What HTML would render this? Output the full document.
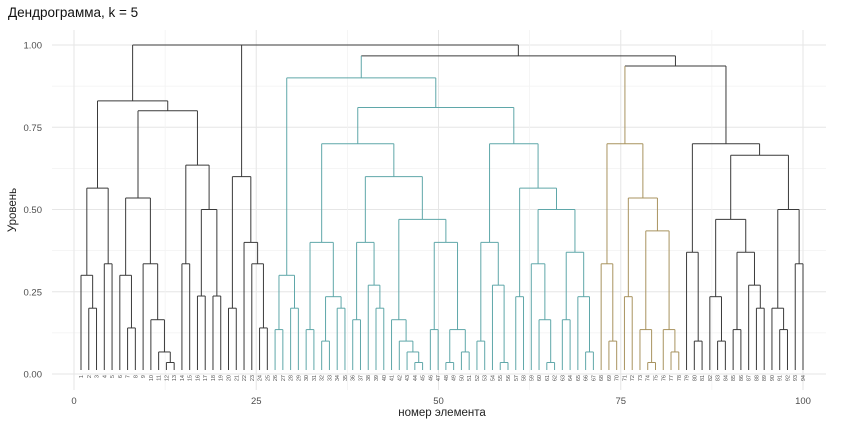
<!DOCTYPE html>
<html><head><meta charset="utf-8">
<style>
body{margin:0;background:#fff;}
svg{display:block;font-family:"Liberation Sans","DejaVu Sans",sans-serif;}
</style></head>
<body>
<svg id="chart" width="848" height="428" viewBox="0 0 848 428" xmlns="http://www.w3.org/2000/svg">
  <rect x="0" y="0" width="848" height="428" fill="#fff"/>
  <g id="grid"></g>
  <g id="axes"></g>
  <g id="links"></g>
  <g id="leaflabels"></g>
  <text x="8" y="17" font-size="13.5" fill="#111">Дендрограмма, k = 5</text>
  <text x="16" y="210" font-size="11.5" fill="#222" text-anchor="middle" transform="rotate(-90 16 210)">Уровень</text>
  <text x="442" y="416" font-size="11.5" fill="#222" text-anchor="middle">номер элемента</text>
</svg>
<script>
const xTicks = [0, 25, 50, 75, 100];
const yTicks = [0, 0.25, 0.5, 0.75, 1.0];
const yTickLabels = ["0.00", "0.25", "0.50", "0.75", "1.00"];
const L = 0;
const treeA = [0.83, [0.565,[0.30,L,[0.2,L,L]],[0.335,L,L]], [0.80,[0.535,[0.30,L,[0.14,L,L]],[0.335,L,[0.165,L,[0.067,L,[0.035,L,L]]]]],[0.635,[0.335,L,L],[0.50,[0.237,L,L],[0.237,L,L]]]]];
const treeB = [0.60,[0.2,L,L],[0.40,L,[0.335,L,[0.14,L,L]]]];
const treeCyan = [0.90,
  [0.30,[0.135,L,L],[0.20,L,L]],
  [0.81,
    [0.70,
      [0.40,[0.135,L,L],[0.235,[0.10,L,L],[0.20,L,L]]],
      [0.60,
        [0.40,[0.165,L,L],[0.27,L,[0.20,L,L]]],
        [0.47,[0.165,L,[0.10,L,[0.067,L,[0.035,L,L]]]],[0.40,[0.135,L,L],[0.135,[0.035,L,L],[0.067,L,L]]]]]],
    [0.70,
      [0.40,[0.10,L,L],[0.27,L,[0.035,L,L]]],
      [0.565,[0.235,L,L],[0.50,[0.335,L,[0.165,L,[0.035,L,L]]],[0.37,[0.165,L,L],[0.235,L,[0.067,L,L]]]]]]]];
const treeBrown = [0.70,[0.335,L,[0.10,L,L]],[0.535,[0.235,L,L],[0.435,[0.135,L,[0.035,L,L]],[0.135,L,[0.067,L,L]]]]];
const treeBlackR = [0.70,[0.37,L,[0.10,L,L]],[0.665,[0.47,[0.235,L,[0.10,L,L]],[0.37,[0.135,L,L],[0.27,L,[0.20,L,L]]]],[0.50,[0.20,L,[0.135,L,L]],[0.335,L,L]]]];
const clusterColors = ["#3a3a3a", "#3a3a3a", "#5fa7a9", "#a8935f", "#3a3a3a"];
const topHeights = [1.0, 1.0, 0.967, 0.936];

const NS = "http://www.w3.org/2000/svg";
const X = v => 74 + v * 7.29;
const Y = h => 374 - h * 329;
const grid = document.getElementById('grid');
const axes = document.getElementById('axes');
const links = document.getElementById('links');
const leafG = document.getElementById('leaflabels');

function mk(tag, attrs, parent){ const e=document.createElementNS(NS,tag); for(const k in attrs) e.setAttribute(k,attrs[k]); parent.appendChild(e); return e; }

for (let i=0;i<yTicks.length;i++){
  const gl = mk('line',{x1:52,x2:826,y1:Y(yTicks[i]),y2:Y(yTicks[i]),stroke:'#e6e6e6','stroke-width':1},grid);
  
  
  if(i<yTicks.length-1){
    const gm = mk('line',{x1:52,x2:826,y1:Y((yTicks[i]+yTicks[i+1])/2),y2:Y((yTicks[i]+yTicks[i+1])/2),stroke:'#f2f2f2','stroke-width':0.8},grid);
    
    
  }
  const t = mk('text',{x:42,y:Y(yTicks[i])+3.5,'font-size':9.5,fill:'#4d4d4d','text-anchor':'end'},axes);
  t.textContent = yTickLabels[i];
  
  
}
for (let i=0;i<xTicks.length;i++){
  const gl = mk('line',{x1:X(xTicks[i]),x2:X(xTicks[i]),y1:30,y2:390,stroke:'#e6e6e6','stroke-width':1},grid);
  
  
  if(i<xTicks.length-1){
    const gm = mk('line',{x1:X((xTicks[i]+xTicks[i+1])/2),x2:X((xTicks[i]+xTicks[i+1])/2),y1:30,y2:390,stroke:'#f2f2f2','stroke-width':0.8},grid);
    
    
  }
  const t = mk('text',{x:X(xTicks[i]),y:404,'font-size':9.5,fill:'#4d4d4d','text-anchor':'middle'},axes);
  t.textContent = String(xTicks[i]);
  
  
}

const root = [topHeights[0],
  [topHeights[1], {col:clusterColors[0], t:treeA}, {col:clusterColors[1], t:treeB}],
  [topHeights[2], {col:clusterColors[2], t:treeCyan}, [topHeights[3], {col:clusterColors[3], t:treeBrown}, {col:clusterColors[4], t:treeBlackR}]]];

function countLeaves(n){ if(n && n.t) return countLeaves(n.t); if(!Array.isArray(n)) return 1; return countLeaves(n[1])+countLeaves(n[2]); }
const nLeaves = countLeaves(root);
const leafX = i => 81 + i * (803 - 81) / (nLeaves - 1);
let leafIdx = 0;

function layout(n, col){
  if(n && n.t) return layout(n.t, n.col);
  if(!Array.isArray(n)){
    const x = leafX(leafIdx);
    const lab = mk('text',{x:0,y:0,'font-size':5.5,fill:'#555','text-anchor':'end',transform:`translate(${x+2},${Y(0)+1}) rotate(-90)`},leafG);
    lab.textContent = String(leafIdx+1);
    
    
    leafIdx++;
    return {x, h:0, col};
  }
  const a = layout(n[1], col), b = layout(n[2], col);
  const h = n[0];
  const c = col;
  const hl = mk('line',{x1:a.x,x2:b.x,y1:Y(h),y2:Y(h),stroke:c,'stroke-width':1},links);
  
  
  for(const ch of [a,b]){
    const vl = mk('line',{x1:ch.x,x2:ch.x,y1:Y(h),y2:ch.h===0?Y(0)-4:Y(ch.h),stroke:ch.col,'stroke-width':1},links);
    
    
  }
  return {x:(a.x+b.x)/2, h, col:c};
}
layout(root, '#3a3a3a');
</script>
</body></html>
